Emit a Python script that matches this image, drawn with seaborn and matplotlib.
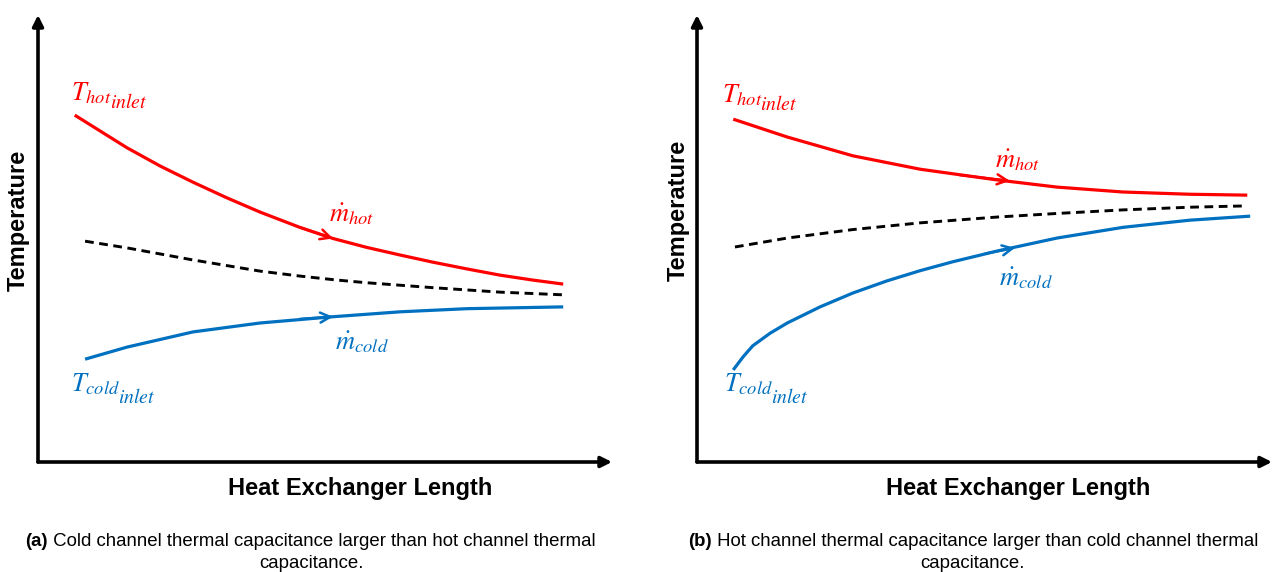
import matplotlib
matplotlib.use("Agg")
import matplotlib.pyplot as plt
import seaborn as sns
import pandas as pd

sns.set_theme(style="white")
plt.rcParams['font.family'] = ['Liberation Sans', 'DejaVu Sans']
plt.rcParams['mathtext.fontset'] = 'stix'
plt.rcParams['text.color'] = 'black'

RED = "#FF0000"
BLUE = "#0070C0"

# ---- Panel (a): cold channel capacitance larger ----
a_hot_x = [0.64, 1.55, 2.13, 2.70, 3.29, 3.87, 4.56, 5.14, 5.73, 6.31, 6.88, 7.47, 8.05, 8.62, 9.15]
a_hot_y = [7.76, 7.03, 6.62, 6.26, 5.91, 5.59, 5.25, 5.00, 4.80, 4.63, 4.47, 4.32, 4.18, 4.07, 3.98]
a_mix_x = [0.82, 1.55, 2.70, 3.87, 4.56, 5.21, 5.73, 6.88, 8.05, 9.15]
a_mix_y = [4.94, 4.79, 4.52, 4.27, 4.16, 4.07, 4.01, 3.90, 3.80, 3.74]
a_cold_x = [0.82, 1.55, 2.70, 3.87, 5.14, 6.31, 7.47, 9.15]
a_cold_y = [2.30, 2.57, 2.91, 3.11, 3.25, 3.36, 3.43, 3.47]

# ---- Panel (b): hot channel capacitance larger ----
b_hot_x = [0.63, 1.57, 2.71, 3.88, 5.22, 6.26, 7.41, 8.57, 9.57]
b_hot_y = [7.67, 7.27, 6.85, 6.55, 6.31, 6.15, 6.04, 5.99, 5.97]
b_mix_x = [0.66, 1.57, 2.71, 3.88, 5.22, 6.26, 7.41, 8.57, 9.57]
b_mix_y = [4.81, 5.01, 5.20, 5.35, 5.48, 5.56, 5.64, 5.70, 5.73]
b_cold_x = [0.63, 0.80, 0.97, 1.27, 1.57, 2.14, 2.71, 3.30, 3.88, 4.45, 5.22, 6.26, 7.41, 8.57, 9.62]
b_cold_y = [2.06, 2.35, 2.60, 2.88, 3.11, 3.47, 3.78, 4.05, 4.28, 4.48, 4.72, 5.01, 5.25, 5.41, 5.50]

# flow-direction arrows on curves: (tail), (head), colour
a_arrows = [((4.56, 5.25), (5.14, 5.00), RED), ((4.56, 3.20), (5.14, 3.25), BLUE)]
b_arrows = [((4.57, 6.42), (5.44, 6.29), RED), ((5.01, 4.66), (5.53, 4.79), BLUE)]

# text labels: main symbol, its baseline position, and the second-level subscript baseline
main_text = {"hot_in": r"$T_{hot}$", "cold_in": r"$T_{cold}$",
             "m_hot": r"$\dot{m}_{hot}$", "m_cold": r"$\dot{m}_{cold}$"}
sub_text = {"hot_in": r"$inlet$", "cold_in": r"$inlet$"}
a_label_pos = {"hot_in": (0.58, 8.10, 7.92), "cold_in": (0.58, 1.57, 1.32),
               "m_hot": (5.47, 5.55, None), "m_cold": (5.64, 2.68, None)}
b_label_pos = {"hot_in": (0.43, 8.05, 7.87), "cold_in": (0.47, 1.57, 1.32),
               "m_hot": (5.57, 6.76, None), "m_cold": (5.72, 4.12, None)}

captions = [
    ("(a)", " Cold channel thermal capacitance larger than hot channel thermal", "capacitance."),
    ("(b)", " Hot channel thermal capacitance larger than cold channel thermal", "capacitance."),
]

W, H = 1275, 572
fig = plt.figure(figsize=(W / 100, H / 100), dpi=100)
fig.patch.set_facecolor("white")

axes_px = [(38, 15, 612, 462), (697, 15, 1272, 462)]
panels = [
    (a_hot_x, a_hot_y, a_mix_x, a_mix_y, a_cold_x, a_cold_y, a_arrows, a_label_pos),
    (b_hot_x, b_hot_y, b_mix_x, b_mix_y, b_cold_x, b_cold_y, b_arrows, b_label_pos),
]

FS = 19
axs = []
for (l, t, r, b), (hx, hy, mx, my, cx, cy, arrows, lpos) in zip(axes_px, panels):
    ax = fig.add_axes([l / W, 1 - b / H, (r - l) / W, (b - t) / H])
    axs.append(ax)
    ax.set_xlim(0, 10)
    ax.set_ylim(0, 10)
    ax.set_facecolor("none")
    for s in ax.spines.values():
        s.set_visible(False)

    kw = dict(sort=False, estimator=None, solid_joinstyle="round", solid_capstyle="butt")
    sns.lineplot(data=pd.DataFrame({"x": hx, "y": hy}), x="x", y="y", ax=ax,
                 color=RED, lw=2.3, **kw)
    sns.lineplot(data=pd.DataFrame({"x": mx, "y": my}), x="x", y="y", ax=ax,
                 color="black", lw=2.1, sort=False, estimator=None, linestyle=(0, (3.0, 1.9)))
    sns.lineplot(data=pd.DataFrame({"x": cx, "y": cy}), x="x", y="y", ax=ax,
                 color=BLUE, lw=2.3, **kw)
    ax.set_xticks([])
    ax.set_yticks([])
    ax.set_xlabel("")
    ax.set_ylabel("")

    for tail, head, col in arrows:
        ax.annotate("", xy=head, xytext=tail,
                    arrowprops=dict(arrowstyle="->", color=col, lw=1.8, mutation_scale=18,
                                    shrinkA=0, shrinkB=0))

    for key, (x, y, ysub) in lpos.items():
        col = RED if key in ("hot_in", "m_hot") else BLUE
        if ysub is None:
            ax.text(x, y, main_text[key], color=col, fontsize=FS, ha="center", va="center")
        else:
            t1 = ax.text(x, y, main_text[key], color=col, fontsize=FS, ha="left", va="baseline")
            ax.annotate(sub_text[key], xy=(1.0, ysub), xycoords=(t1, "data"),
                        xytext=(-1.5, 0), textcoords="offset points", color=col,
                        fontsize=FS * 0.75, ha="left", va="baseline")

    # axis arrows
    for end in [(1.0, 0), (0, 1.0)]:
        ax.annotate("", xy=end, xytext=(0, 0), xycoords="axes fraction",
                    arrowprops=dict(arrowstyle="-|>", color="black", lw=2.6, mutation_scale=16,
                                    shrinkA=0, shrinkB=0), annotation_clip=False)

# axis titles
for xp, yp in [(18, 220), (678, 210)]:
    fig.text(xp / W, 1 - yp / H, "Temperature", rotation=90, ha="center", va="center",
             fontsize=17, fontweight="bold", color="black")
for xp in [360, 1018]:
    fig.text(xp / W, 1 - 488 / H, "Heat Exchanger Length", ha="center", va="center",
             fontsize=17, fontweight="bold", color="black")

# captions
for ax, left_px, c2_px, (tag, line1, line2) in zip(axs, [25, 688], [311, 972], captions):
    t_tag = fig.text(left_px / W, 1 - 542 / H, tag, ha="left", va="center",
                     fontsize=13.4, fontweight="bold", color="black")
    ax.annotate(line1, xy=(1.0, 0.0), xycoords=t_tag, ha="left", va="bottom",
                fontsize=13.4, color="black", annotation_clip=False)
    fig.text(c2_px / W, 1 - 563 / H, line2, ha="center", va="center", fontsize=13.4,
             color="black")

fig.savefig("out.png", dpi=100, facecolor="white")
